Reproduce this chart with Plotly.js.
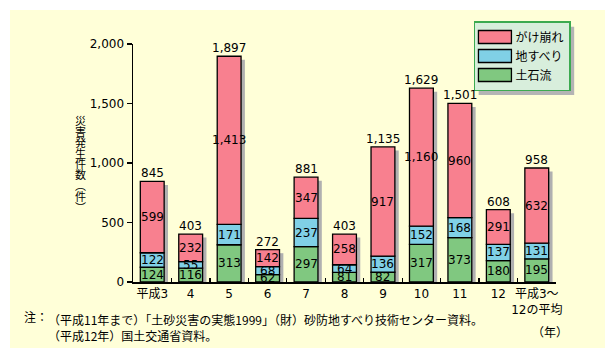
<!DOCTYPE html>
<html><head><meta charset="utf-8">
<script src="https://cdn.plot.ly/plotly-3.0.1.min.js"></script>
<style>
body{margin:0;background:#fff;}
#chart{position:absolute;left:10px;top:10px;width:595px;height:338px;}
</style>
</head><body><div id="chart"></div>
<script>
const categories = ['平成3','4','5','6','7','8','9','10','11','12','平成3～<br>12の平均'];
const debrisFlow = [124,116,313,62,297,81,82,317,373,180,195];
const landslide = [122,55,171,68,237,64,136,152,168,137,131];
const cliffFailure = [599,232,1413,142,347,258,917,1160,960,291,632];
const totals = [845,403,1897,272,881,403,1135,1629,1501,608,958];
const seriesNames = ['土石流','地すべり','がけ崩れ'];
const yTicks = [0,500,1000,1500,2000];
const yTickLabels = ['0','500','1,000','1,500','2,000'];
const yTitleChars = ['災','害','発','生','件','数','︵','件','︶'];

const FONT = 'DejaVu Sans, "Noto Sans CJK JP", sans-serif';
const colors = ['#80C880','#80D0E6','#F8808F'];
const W = 0.62, OFF = -0.31;
const series = [debrisFlow, landslide, cliffFailure];
const bases = [debrisFlow.map(()=>0), debrisFlow.slice(), debrisFlow.map((v,i)=>v+landslide[i])];
const fmt = v => v.toLocaleString('en-US');

const traces = [];
traces.push({
  type:'bar', x:categories, y:totals.map(t=>t-30), base:0,
  width:W, offset:OFF+0.1, marker:{color:'#B0B0B0', line:{width:0}},
  showlegend:false, hoverinfo:'skip'
});
series.forEach((s,k)=>{
  traces.push({
    type:'bar', name:seriesNames[k], x:categories, y:s, base:bases[k],
    width:W, offset:OFF, marker:{color:colors[k], line:{color:'#000', width:1.3}}
  });
});

const annotations = [];
series.forEach((s,k)=>{
  s.forEach((v,i)=>{
    annotations.push({x:i, y:bases[k][i]+v/2, xref:'x', yref:'y', text:fmt(v),
      showarrow:false, font:{family:FONT, size:12, color:'#000'}, yanchor:'middle'});
  });
});
totals.forEach((t,i)=>{
  annotations.push({x:i, y:t, xref:'x', yref:'y', text:fmt(t),
    showarrow:false, font:{family:FONT, size:12, color:'#000'}, yanchor:'bottom', yshift:-1});
});
yTitleChars.forEach((c,i)=>{
  annotations.push({x:-0.125, y:(272-(109+11*i))/239, xref:'paper', yref:'paper', text:c,
    showarrow:false, font:{family:'"Noto Sans CJK JP"', size:11, color:'#000'}, xanchor:'center', yanchor:'middle'});
});
annotations.push({x:-0.2624, y:-0.1464, xref:'paper', yref:'paper', text:'注：',
  showarrow:false, font:{family:'"Noto Sans CJK JP"', size:12, color:'#000'}, xanchor:'left', yanchor:'middle'});
annotations.push({x:-0.2057, y:-0.1464, xref:'paper', yref:'paper',
  text:'（平成11年まで）「土砂災害の実態1999」（財）砂防地すべり技術センター資料。<br>（平成12年）国土交通省資料。',
  showarrow:false, align:'left', font:{family:'"Noto Sans CJK JP"', size:12, color:'#000'}, xanchor:'left', yanchor:'top', yshift:8});
annotations.push({x:0.986, y:-0.209, xref:'paper', yref:'paper', text:'（年）',
  showarrow:false, font:{family:'"Noto Sans CJK JP"', size:12, color:'#000'}, xanchor:'center', yanchor:'middle'});

const layout = {
  width:595, height:338,
  paper_bgcolor:'#FFFFD8', plot_bgcolor:'rgba(0,0,0,0)',
  margin:{l:123, r:49, t:33, b:66},
  barmode:'overlay',
  font:{family:FONT, size:12, color:'#000'},
  xaxis:{type:'category', range:[-0.5,10.5], showline:true, linecolor:'#000', linewidth:1.5,
    ticks:'inside', tickson:'boundaries', ticklen:4, tickcolor:'#000', tickwidth:1.2, tickangle:0,
    showgrid:false, zeroline:false, tickfont:{family:FONT, size:12}},
  yaxis:{range:[0,2000], tickvals:yTicks, ticktext:yTickLabels, ticks:'outside', ticklen:5,
    tickcolor:'#000', tickwidth:1.2, showline:true, linecolor:'#000', linewidth:1.5,
    showgrid:false, zeroline:false, tickfont:{family:FONT, size:12}},
  legend:{x:0.806, y:1.092, xanchor:'left', yanchor:'top', bgcolor:'#D8EEDC',
    bordercolor:'#3CAA50', borderwidth:1.5, traceorder:'reversed', itemwidth:30,
    font:{family:'"Noto Sans CJK JP"', size:12}},
  annotations:annotations
};
function widenSwatches(gd){
  gd.querySelectorAll('.legend .traces').forEach(g=>{
    const p = g.querySelector('.legendpoints path');
    if (p) p.setAttribute('d','M16,6.5H-17V-6.5H16Z');
  });
}
Plotly.newPlot('chart', traces, layout, {displayModeBar:false, staticPlot:true}).then(gd=>{
  widenSwatches(gd);
  const bg = gd.querySelector('.legend .bg');
  if (bg) {
    const r = bg.getBoundingClientRect();
    const toX = px => (px-133)/423, toY = py => (282-py)/239;
    Plotly.relayout(gd, {shapes:[{type:'rect', xref:'paper', yref:'paper',
      x0:toX(r.left+4), x1:toX(r.right+4), y0:toY(r.bottom+4), y1:toY(r.top+4),
      fillcolor:'#B4B4B4', line:{width:0}, layer:'above'}]}).then(()=>widenSwatches(gd));
  }
});
</script>
</body></html>
